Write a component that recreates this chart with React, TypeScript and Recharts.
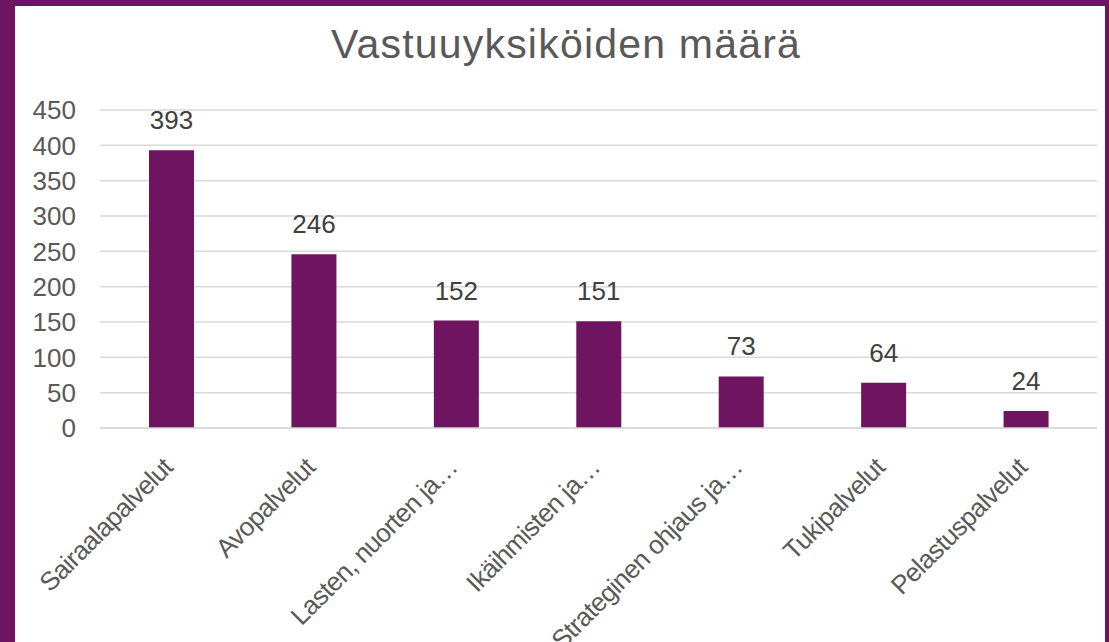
import { BarChart, Bar, XAxis, YAxis, CartesianGrid, LabelList } from 'recharts';

const categories = [
  'Sairaalapalvelut',
  'Avopalvelut',
  'Lasten, nuorten ja…',
  'Ikäihmisten ja…',
  'Strateginen ohjaus ja…',
  'Tukipalvelut',
  'Pelastuspalvelut',
];
const counts = [393, 246, 152, 151, 73, 64, 24];
const yTicks = [0, 50, 100, 150, 200, 250, 300, 350, 400, 450];

const data = categories.map((name, i) => ({ name, count: counts[i] }));

const PURPLE = '#6f1461';
const FONT = '"Liberation Sans", Arial, sans-serif';

interface TickProps {
  x?: number;
  y?: number;
  payload?: { value: string };
}

function CategoryTick({ x = 0, y = 0, payload }: TickProps) {
  return (
    <g transform={`translate(${x + 3},${y + 33})`}>
      <text
        transform="rotate(-45)"
        textAnchor="end"
        fill="#595959"
        fontSize={26}
        letterSpacing={-0.6}
        fontFamily={FONT}
      >
        {payload?.value}
      </text>
    </g>
  );
}

export default function App() {
  return (
    <div
      style={{
        position: 'fixed',
        left: 0,
        top: 0,
        width: 1109,
        height: 642,
        background: PURPLE,
        overflow: 'hidden',
      }}
    >
      <div
        style={{
          position: 'absolute',
          left: 15,
          top: 6,
          width: 1090,
          height: 636,
          background: '#ffffff',
        }}
      >
        <svg
          width={1090}
          height={70}
          style={{ position: 'absolute', left: 0, top: 0 }}
        >
          <text
            x={551}
            y={52}
            textAnchor="middle"
            fill="#595959"
            fontSize={41}
            letterSpacing={1.2}
            fontFamily={FONT}
          >
            Vastuuyksiköiden määrä
          </text>
        </svg>
        <BarChart
          width={1090}
          height={636}
          data={data}
          margin={{ top: 104, right: 8, left: 0, bottom: 0 }}
          barCategoryGap={0}
        >
          <CartesianGrid
            vertical={false}
            stroke="#d9d9d9"
            strokeWidth={1.5}
          />
          <XAxis
            dataKey="name"
            height={214}
            interval={0}
            axisLine={{ stroke: '#d9d9d9', strokeWidth: 1.5 }}
            tickLine={false}
            tick={<CategoryTick />}
          />
          <YAxis
            width={85}
            domain={[0, 450]}
            ticks={yTicks}
            axisLine={false}
            tickLine={false}
            tickSize={0}
            tickMargin={24}
            tick={{ fill: '#595959', fontSize: 26, fontFamily: FONT }}
          />
          <Bar dataKey="count" fill={PURPLE} barSize={45} isAnimationActive={false}>
            <LabelList
              dataKey="count"
              position="top"
              offset={21}
              fill="#404040"
              fontSize={26}
              fontFamily={FONT}
            />
          </Bar>
        </BarChart>
      </div>
    </div>
  );
}
